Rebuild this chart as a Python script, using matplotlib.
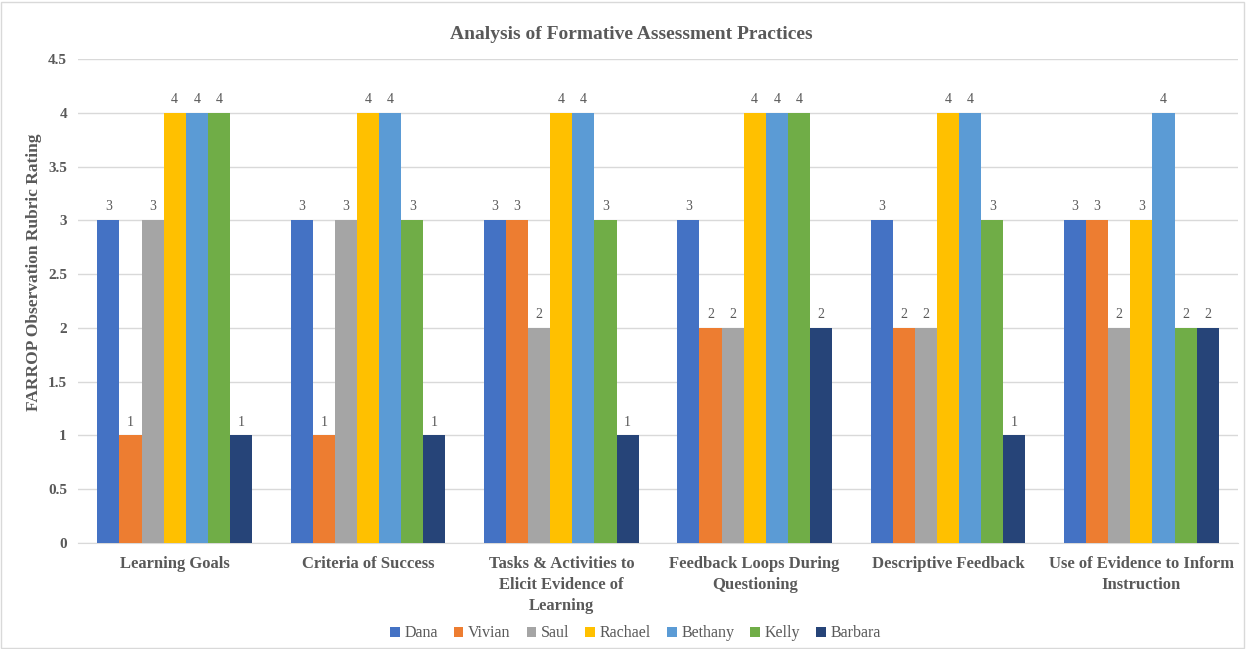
import numpy as np
import matplotlib
matplotlib.use("Agg")
from matplotlib import pyplot as plt
from matplotlib.patches import Rectangle

categories = ["Learning Goals", "Criteria of Success",
              "Tasks & Activities to\nElicit Evidence of\nLearning",
              "Feedback Loops During\nQuestioning", "Descriptive Feedback",
              "Use of Evidence to Inform\nInstruction"]
names = ["Dana", "Vivian", "Saul", "Rachael", "Bethany", "Kelly", "Barbara"]
dana = [3, 3, 3, 3, 3, 3]
vivian = [1, 1, 3, 2, 2, 3]
saul = [3, 3, 2, 2, 2, 2]
rachael = [4, 4, 4, 4, 4, 3]
bethany = [4, 4, 4, 4, 4, 4]
kelly = [4, 3, 3, 4, 3, 2]
barbara = [1, 1, 1, 2, 1, 2]
series = [dana, vivian, saul, rachael, bethany, kelly, barbara]
colors = ["#4472C4", "#ED7D31", "#A5A5A5", "#FFC000", "#5B9BD5", "#70AD47", "#264478"]
yticks = [0, 0.5, 1, 1.5, 2, 2.5, 3, 3.5, 4, 4.5]

plt.rcParams['font.family'] = ['Liberation Serif', 'DejaVu Serif']
grey = "#595959"

fig = plt.figure(figsize=(12.46, 6.49), dpi=100)
ax = fig.add_axes([0.0626, 0.1633, 0.931, 0.7457])

x = np.arange(len(categories))
w = 0.8 / len(series)
for i, (vals, name, c) in enumerate(zip(series, names, colors)):
    pos = x - 0.4 + w * (i + 0.5)
    bars = ax.bar(pos, vals, w, color=c, label=name, zorder=3)
    ax.bar_label(bars, labels=[str(v) for v in vals], padding=5,
                 fontsize=10, color=grey)

ax.set_xlim(-0.5, len(categories) - 0.5)
ax.set_ylim(0, 4.5)
ax.set_yticks(yticks)
ax.set_yticklabels([f"{t:g}" for t in yticks], fontsize=11, fontweight='bold', color=grey)
ax.set_xticks(x)
ax.set_xticklabels(categories, fontsize=12, fontweight='bold', color=grey, linespacing=1.45)
ax.tick_params(axis='both', length=0, pad=8)
ax.tick_params(axis='x', pad=9)
ax.grid(axis='y', color="#D9D9D9", linewidth=1, zorder=0)
for s in ["top", "right", "left"]:
    ax.spines[s].set_visible(False)
ax.spines["bottom"].set_color("#D9D9D9")

ax.set_ylabel("FARROP Observation Rubric Rating", fontsize=12.5, fontweight='bold',
              color=grey)
ax.yaxis.set_label_coords(-0.031, 0.56)
fig.text(0.507, 0.947, "Analysis of Formative Assessment Practices", ha='center',
         va='center', fontsize=14, fontweight='bold', color=grey)

fig.legend(loc='center', bbox_to_anchor=(0.51, 0.024), ncol=7, frameon=False,
           fontsize=11.5, handlelength=0.6, handleheight=0.6, handletextpad=0.3,
           columnspacing=1.0, labelcolor=grey)

fig.patches.append(Rectangle((0.001, 0.002), 0.997, 0.995, transform=fig.transFigure,
                             fill=False, edgecolor="#D9D9D9", linewidth=1))

fig.savefig("out.png", dpi=100)
